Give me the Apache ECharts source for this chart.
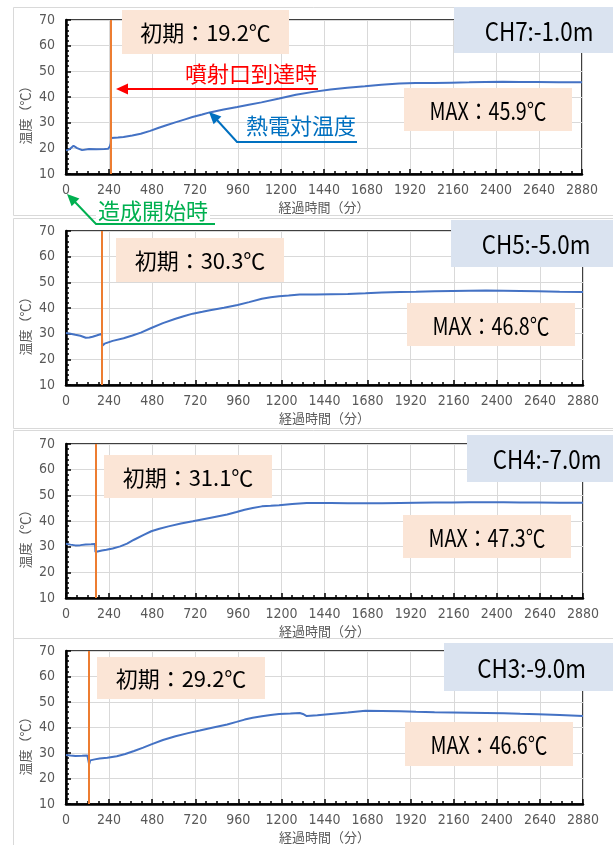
<!DOCTYPE html>
<html>
<head>
<meta charset="utf-8">
<script src="https://cdn.jsdelivr.net/npm/echarts@6/dist/echarts.min.js"></script>
<style>
  html, body { margin: 0; padding: 0; background: #fff; }
  #chart { width: 613px; height: 845px; }
</style>
</head>
<body>
<div id="chart"></div>
<script>
// Thermocouple temperature readings per channel (time in minutes, temperature in ℃)
const timeCH7 = [0, 20, 42, 62, 90, 129, 170, 215, 235, 245, 250, 252, 260, 290, 321, 370, 417, 470, 514, 560, 610, 660, 706, 760, 802, 880, 956, 1020, 1091, 1190, 1283, 1380, 1476, 1570, 1668, 1760, 1860, 1950, 2053, 2150, 2250, 2340, 2438, 2530, 2630, 2750, 2880];
const tempCH7 = [19.2, 19.6, 21.0, 20.1, 19.3, 19.7, 19.6, 19.7, 19.8, 20.8, 22.0, 24.0, 24.3, 24.2, 24.4, 25.0, 25.7, 26.8, 27.9, 29.0, 30.1, 31.2, 32.2, 33.2, 34.0, 35.1, 36.1, 37.0, 37.9, 39.4, 40.9, 42.0, 42.9, 43.6, 44.2, 44.8, 45.3, 45.5, 45.5, 45.6, 45.7, 45.8, 45.9, 45.8, 45.8, 45.7, 45.7];

const timeCH5 = [0, 25, 52, 80, 110, 130, 148, 170, 187, 200, 202, 208, 215, 260, 321, 370, 417, 475, 540, 610, 660, 706, 760, 802, 880, 956, 1020, 1091, 1140, 1187, 1240, 1302, 1390, 1476, 1570, 1668, 1760, 1860, 1950, 2053, 2150, 2245, 2340, 2438, 2530, 2630, 2750, 2880];
const tempCH5 = [30.3, 30.0, 29.6, 29.2, 28.4, 28.5, 28.8, 29.3, 29.7, 30.0, 25.3, 25.8, 26.1, 27.2, 28.2, 29.3, 30.4, 32.2, 34.1, 35.8, 36.9, 37.8, 38.5, 39.1, 40.1, 41.2, 42.3, 43.6, 44.2, 44.6, 44.9, 45.3, 45.3, 45.4, 45.5, 45.7, 46.0, 46.2, 46.3, 46.5, 46.6, 46.7, 46.8, 46.7, 46.6, 46.5, 46.3, 46.2];

const timeCH4 = [0, 25, 52, 80, 110, 140, 162, 164, 170, 200, 225, 260, 302, 340, 379, 430, 475, 520, 571, 640, 706, 800, 898, 950, 995, 1040, 1091, 1140, 1187, 1260, 1341, 1410, 1476, 1570, 1668, 1760, 1860, 1950, 2053, 2150, 2245, 2340, 2438, 2530, 2630, 2750, 2880];
const tempCH4 = [31.1, 30.8, 30.5, 30.6, 30.8, 30.9, 31.0, 27.9, 28.2, 28.5, 28.8, 29.3, 30.1, 31.2, 32.7, 34.5, 36.0, 37.0, 37.9, 39.0, 39.9, 41.2, 42.5, 43.5, 44.4, 45.1, 45.7, 45.9, 46.1, 46.6, 47.0, 47.0, 47.0, 46.9, 46.9, 46.9, 47.0, 47.1, 47.2, 47.2, 47.3, 47.3, 47.3, 47.2, 47.2, 47.1, 47.1];

const timeCH3 = [0, 25, 52, 90, 119, 125, 129, 135, 160, 187, 230, 283, 330, 379, 430, 475, 540, 610, 680, 745, 820, 898, 950, 995, 1040, 1091, 1140, 1187, 1250, 1302, 1320, 1341, 1400, 1476, 1570, 1668, 1760, 1860, 1950, 2053, 2150, 2245, 2340, 2438, 2530, 2630, 2750, 2880];
const tempCH3 = [29.2, 29.0, 28.8, 28.9, 29.0, 29.0, 25.6, 27.1, 27.5, 27.8, 28.1, 28.7, 29.6, 30.8, 32.1, 33.4, 35.1, 36.6, 37.8, 38.8, 40.0, 41.2, 42.2, 43.1, 43.8, 44.4, 44.9, 45.3, 45.5, 45.7, 45.3, 44.5, 44.8, 45.3, 45.9, 46.6, 46.5, 46.4, 46.2, 46.0, 45.9, 45.8, 45.7, 45.6, 45.4, 45.2, 44.9, 44.5];

const channelNames = ['CH7:-1.0m', 'CH5:-5.0m', 'CH4:-7.0m', 'CH3:-9.0m'];
const initialTemps = [19.2, 30.3, 31.1, 29.2];
const maxTemps = [45.9, 46.8, 47.3, 46.6];
const nozzleArrivalTimes = [250, 200, 163, 125];

const xMin = 0, xMax = 2880, xStep = 240;
const yMin = 10, yMax = 70, yStep = 10;

const seriesTimes = [timeCH7, timeCH5, timeCH4, timeCH3];
const seriesTemps = [tempCH7, tempCH5, tempCH4, tempCH3];

// ---- layout ----
const panels = [
  { frameTop: 7,   frameH: 208, grid: { left: 66, top: 20,  width: 516, height: 154 },
    initBox: [122, 10, 167, 44], chBox: [454, 7, 170, 46], maxBox: [404, 88, 168, 43] },
  { frameTop: 218, frameH: 210, grid: { left: 66, top: 231, width: 517, height: 154 },
    initBox: [116, 238, 168, 44], chBox: [451, 220, 170, 47], maxBox: [407, 303, 168, 43] },
  { frameTop: 430, frameH: 208, grid: { left: 66, top: 444, width: 517, height: 154 },
    initBox: [104, 455, 168, 43], chBox: [467, 435, 160, 47], maxBox: [403, 515, 168, 43] },
  { frameTop: 638, frameH: 210, grid: { left: 66, top: 651, width: 517, height: 154 },
    initBox: [97, 657, 168, 42], chBox: [444, 643, 175, 48], maxBox: [405, 722, 168, 44] }
];

const JP = '"Noto Sans CJK JP", "Noto Sans", sans-serif';
const NUM = '"Liberation Sans Narrow", "DejaVu Sans Condensed", "Liberation Sans", sans-serif';
const GREY = '#595959';

const grids = [], xAxes = [], yAxes = [], series = [], graphics = [];

panels.forEach((p, i) => {
  // chart frame behind each panel
  graphics.push({
    type: 'rect', z: -10, silent: true,
    shape: { x: 13.5, y: p.frameTop + 0.5, width: 620, height: p.frameH },
    style: { fill: '#fff', stroke: '#D9D9D9', lineWidth: 1 }
  });

  grids.push(Object.assign({
    show: true, borderColor: '#000', borderWidth: 1.5,
    backgroundColor: 'transparent', containLabel: false
  }, p.grid));

  xAxes.push({
    gridIndex: i, type: 'value', min: xMin, max: xMax, interval: xStep,
    axisLine: { show: true, onZero: false, lineStyle: { color: '#000', width: 2.5 } },
    axisTick: { show: true, inside: true, length: 5, lineStyle: { color: '#000', width: 1.5 } },
    minorTick: { show: true, splitNumber: 4, length: 3, lineStyle: { color: '#000', width: 1.5 } },
    splitLine: { show: true, lineStyle: { color: '#D9D9D9', width: 1 } },
    axisLabel: { color: GREY, fontSize: 14, fontFamily: NUM, margin: 9, formatter: v => String(v) },
    name: '経過時間（分）', nameLocation: 'middle', nameGap: 27,
    nameTextStyle: { color: GREY, fontSize: 13, fontFamily: JP }
  });

  yAxes.push({
    gridIndex: i, type: 'value', min: yMin, max: yMax, interval: yStep,
    axisLine: { show: true, lineStyle: { color: '#000', width: 2.5 } },
    axisTick: { show: true, inside: true, length: 5, lineStyle: { color: '#000', width: 1.5 } },
    minorTick: { show: true, splitNumber: 5, length: 3, lineStyle: { color: '#000', width: 1.5 } },
    splitLine: { show: true, lineStyle: { color: '#D9D9D9', width: 1 } },
    axisLabel: { color: GREY, fontSize: 14, fontFamily: NUM, margin: 11, formatter: v => String(v) }
  });

  series.push({
    type: 'line', xAxisIndex: i, yAxisIndex: i,
    data: seriesTimes[i].map((t, k) => [t, seriesTemps[i][k]]),
    symbol: 'none', smooth: false,
    lineStyle: { color: '#4472C4', width: 2 },
    markLine: {
      silent: true, symbol: 'none', label: { show: false },
      lineStyle: { color: '#ED7D31', width: 2, type: 'solid' },
      data: [{ xAxis: nozzleArrivalTimes[i] }]
    }
  });

  // y axis title
  graphics.push({
    type: 'text', z: 50, x: 25, y: p.grid.top + p.grid.height / 2 + 15, rotation: Math.PI / 2,
    style: { text: '温度（℃）', fill: GREY, font: '13px ' + JP, align: 'center', verticalAlign: 'middle' }
  });

  const box = (b, fill, label, font, sx) => {
    graphics.push({ type: 'rect', z: 60, shape: { x: b[0], y: b[1], width: b[2], height: b[3] }, style: { fill: fill } });
    graphics.push({
      type: 'text', z: 61, x: b[0] + b[2] / 2, y: b[1] + b[3] / 2 + 1, scaleX: sx || 1,
      style: { text: label, fill: '#000', font: font, align: 'center', verticalAlign: 'middle' }
    });
  };
  box(p.initBox, '#FBE5D6', '初期：' + initialTemps[i].toFixed(1) + '℃', '22px ' + JP);
  box(p.chBox, '#DAE3F0', channelNames[i], '26px ' + JP, 0.86);
  box(p.maxBox, '#FBE5D6', 'MAX：' + maxTemps[i].toFixed(1) + '℃', '24px ' + JP, 0.82);
});

// callout arrows on the top panel
function arrowHead(tip, from, len, half, color) {
  const dx = tip[0] - from[0], dy = tip[1] - from[1];
  const d = Math.hypot(dx, dy), ux = dx / d, uy = dy / d;
  const bx = tip[0] - ux * len, by = tip[1] - uy * len;
  return {
    type: 'polygon', z: 70,
    shape: { points: [tip, [bx - uy * half, by + ux * half], [bx + uy * half, by - ux * half]] },
    style: { fill: color }
  };
}
function callout(text, color, textPos, pts, tip, bg) {
  if (bg) graphics.push({ type: 'rect', z: 65, shape: bg, style: { fill: '#fff' } });
  graphics.push({
    type: 'text', z: 70, x: textPos[0], y: textPos[1],
    style: { text: text, fill: color, font: '22px ' + JP, align: 'center', verticalAlign: 'middle' }
  });
  graphics.push({ type: 'polyline', z: 70, shape: { points: pts }, style: { stroke: color, lineWidth: 2, fill: null } });
  graphics.push(arrowHead(tip, pts[pts.length - 1], 12, 5.5, color));
}
callout('噴射口到達時', '#FF0000', [251, 74], [[318, 89], [127, 89]], [116, 89]);
callout('熱電対温度', '#0070C0', [301, 126], [[357, 142], [237, 142], [217, 120]], [209, 112]);
callout('造成開始時', '#00B050', [153, 211], [[215, 224], [96, 224], [75, 202]], [67, 194], { x: 96, y: 199, width: 114, height: 24 });

const chart = echarts.init(document.getElementById('chart'), null, { renderer: 'canvas' });
chart.setOption({
  animation: false,
  backgroundColor: '#fff',
  grid: grids,
  xAxis: xAxes,
  yAxis: yAxes,
  series: series,
  graphic: graphics
});
</script>
</body>
</html>
